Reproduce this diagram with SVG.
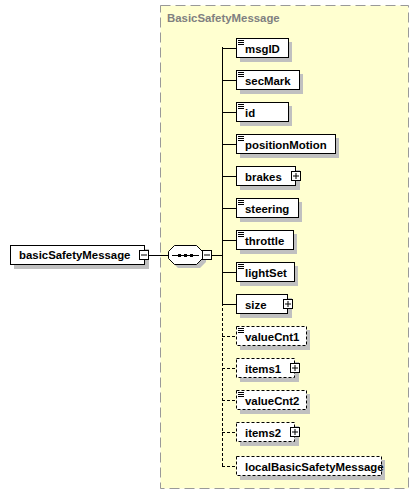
<svg xmlns="http://www.w3.org/2000/svg" width="419" height="495" viewBox="0 0 419 495">
<defs>
<style>
.t{font-family:"Liberation Sans",Arial,sans-serif;font-weight:bold;font-size:11.4px;fill:#000}
.title{font-family:"Liberation Sans",Arial,sans-serif;font-weight:bold;font-size:11.4px;fill:#808080}
.box{fill:#fff;stroke:#000;stroke-width:1}
.opt{fill:#fff;stroke:#000;stroke-width:1;stroke-dasharray:3,2}
.sh{fill:#c0c0c0}
.ln{stroke:#000;stroke-width:1;fill:none}
.dl{stroke:#000;stroke-width:1;fill:none;stroke-dasharray:3,2}
.ic{stroke:#000;stroke-width:1}
</style>
<g id="eq"><path class="ic" d="M0 0.5h6M0 2.5h6M0 4.5h6"/></g>
<g id="plus"><rect x="0.5" y="0.5" width="9" height="9" class="box"/><path class="ic" d="M2 5h6M5 2v6"/></g>
<g id="minus"><rect x="0.5" y="0.5" width="9" height="9" class="box"/><path class="ic" d="M2 5h6"/></g>
</defs>
<rect width="419" height="495" fill="#fff"/>
<g id="group-BasicSafetyMessage">
<rect x="160.5" y="5.5" width="248" height="483" fill="#ffffd0" stroke="#999" stroke-dasharray="10,5"/>
<text class="title" x="167" y="22">BasicSafetyMessage</text>
</g>
<g id="connectors">
<path class="ln" d="M148 255.5h20M212 255.5h10M222.5 47v256"/>
<path class="dl" d="M222.5 303v163"/>
<path class="ln" d="M222 48.5h14M222 80.5h14M222 112.5h14M222 144.5h14M222 176.5h14M222 208.5h14M222 240.5h14M222 272.5h14M222 304.5h14"/>
<path class="dl" d="M222 336.5h14M222 368.5h14M222 400.5h14M222 432.5h14M222 466.5h14"/>
</g>
<g id="node-basicSafetyMessage">
<rect class="sh" x="14" y="249" width="135" height="20"/>
<rect class="box" x="10.5" y="245.5" width="134" height="19"/>
<text class="t" x="19" y="259">basicSafetyMessage</text>
<use href="#minus" x="139" y="250"/>
</g>
<g id="node-sequence">
<path class="sh" d="M178 249h22l6 6v7l-6 6h-22l-6-6v-7z"/>
<path class="box" d="M174.5 245.5h22l6 6v7l-6 6h-22l-6-6v-7z"/>
<path class="ln" d="M172 255.5h27"/>
<rect x="178" y="254" width="3" height="3" fill="#000"/>
<rect x="184" y="254" width="3" height="3" fill="#000"/>
<rect x="190" y="254" width="3" height="3" fill="#000"/>
<use href="#minus" x="202" y="250"/>
</g>
<g id="node-msgID">
<rect class="sh" x="240" y="42" width="52" height="20"/>
<rect class="box" x="236.5" y="38.5" width="52" height="19"/>
<use href="#eq" x="238" y="40"/>
<text class="t" x="245" y="53">msgID</text>
</g>
<g id="node-secMark">
<rect class="sh" x="240" y="74" width="63" height="20"/>
<rect class="box" x="236.5" y="70.5" width="63" height="19"/>
<use href="#eq" x="238" y="72"/>
<text class="t" x="245" y="85">secMark</text>
</g>
<g id="node-id">
<rect class="sh" x="240" y="106" width="52" height="20"/>
<rect class="box" x="236.5" y="102.5" width="52" height="19"/>
<use href="#eq" x="238" y="104"/>
<text class="t" x="245" y="117">id</text>
</g>
<g id="node-positionMotion">
<rect class="sh" x="240" y="138" width="99" height="20"/>
<rect class="box" x="236.5" y="134.5" width="99" height="19"/>
<use href="#eq" x="238" y="136"/>
<text class="t" x="245" y="149">positionMotion</text>
</g>
<g id="node-brakes">
<rect class="sh" x="240" y="170" width="60" height="20"/>
<rect class="box" x="236.5" y="166.5" width="59" height="19"/>
<text class="t" x="245" y="181">brakes</text>
<use href="#plus" x="291" y="171"/>
</g>
<g id="node-steering">
<rect class="sh" x="240" y="202" width="62" height="20"/>
<rect class="box" x="236.5" y="198.5" width="62" height="19"/>
<use href="#eq" x="238" y="200"/>
<text class="t" x="245" y="213">steering</text>
</g>
<g id="node-throttle">
<rect class="sh" x="240" y="234" width="57" height="20"/>
<rect class="box" x="236.5" y="230.5" width="57" height="19"/>
<use href="#eq" x="238" y="232"/>
<text class="t" x="245" y="245">throttle</text>
</g>
<g id="node-lightSet">
<rect class="sh" x="240" y="266" width="58" height="20"/>
<rect class="box" x="236.5" y="262.5" width="58" height="19"/>
<use href="#eq" x="238" y="264"/>
<text class="t" x="245" y="277">lightSet</text>
</g>
<g id="node-size">
<rect class="sh" x="240" y="298" width="52" height="20"/>
<rect class="box" x="236.5" y="294.5" width="51" height="19"/>
<text class="t" x="245" y="309">size</text>
<use href="#plus" x="283" y="299"/>
</g>
<g id="node-valueCnt1">
<rect class="sh" x="240" y="330" width="70" height="20"/>
<rect class="opt" x="236.5" y="326.5" width="70" height="19"/>
<use href="#eq" x="238" y="328"/>
<text class="t" x="245" y="341">valueCnt1</text>
</g>
<g id="node-items1">
<rect class="sh" x="240" y="362" width="59" height="20"/>
<rect class="opt" x="236.5" y="358.5" width="58" height="19"/>
<text class="t" x="245" y="373">items1</text>
<use href="#plus" x="290" y="363"/>
</g>
<g id="node-valueCnt2">
<rect class="sh" x="240" y="394" width="70" height="20"/>
<rect class="opt" x="236.5" y="390.5" width="70" height="19"/>
<use href="#eq" x="238" y="392"/>
<text class="t" x="245" y="405">valueCnt2</text>
</g>
<g id="node-items2">
<rect class="sh" x="240" y="426" width="59" height="20"/>
<rect class="opt" x="236.5" y="422.5" width="58" height="19"/>
<text class="t" x="245" y="437">items2</text>
<use href="#plus" x="290" y="427"/>
</g>
<g id="node-localBasicSafetyMessage">
<rect class="sh" x="240" y="460" width="145" height="20"/>
<rect class="opt" x="236.5" y="456.5" width="145" height="19"/>
<text class="t" x="245" y="471">localBasicSafetyMessage</text>
</g>
</svg>
